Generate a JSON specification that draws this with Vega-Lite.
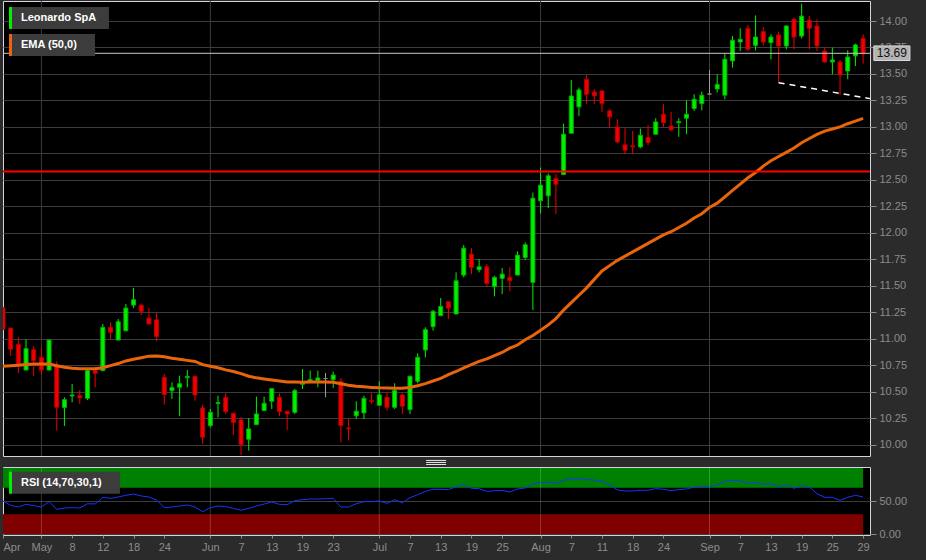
{
  "$schema": "https://vega.github.io/schema/vega-lite/v6.json",
  "background": "#2b2b2b",
  "padding": {"left": 0, "top": 0, "right": 19, "bottom": 7},
  "spacing": 11,
  "bounds": "flush",
  "config": {
    "font": "Liberation Sans",
    "view": {"fill": "#000000", "stroke": "#d4d4e0", "strokeWidth": 1},
    "scale": {"continuousPadding": 0},
    "axis": {"labelFont": "Liberation Sans", "labelFontSize": 11, "labelColor": "#8c8c8c", "tickColor": "#8c8c8c", "domain": false, "gridColor": "#3c3c3c", "gridWidth": 1, "labelOverlap": false}
  },
  "datasets": {
    "months": [{"m": 5}, {"m": 27}, {"m": 49}, {"m": 70}, {"m": 92}],
    "handle": [{"a": 55.1, "b": 57.7, "v": 9.850}, {"a": 55.1, "b": 57.7, "v": 9.831}, {"a": 55.1, "b": 57.7, "v": 9.812}],
    "candles": [
      {"i":0,"o":11.29,"h":11.30,"l":11.08,"c":11.09,"d":"down","ema":10.74,"rsi":50.0},
      {"i":1,"o":11.10,"h":11.10,"l":10.836,"c":10.90,"d":"down","ema":10.745,"rsi":43.4},
      {"i":2,"o":10.946,"h":11.012,"l":10.676,"c":10.761,"d":"down","ema":10.75,"rsi":40.9},
      {"i":3,"o":10.704,"h":10.994,"l":10.704,"c":10.906,"d":"up","ema":10.755,"rsi":44.9},
      {"i":4,"o":10.896,"h":10.931,"l":10.648,"c":10.792,"d":"down","ema":10.76,"rsi":42.9},
      {"i":5,"o":10.824,"h":10.918,"l":10.657,"c":10.704,"d":"down","ema":10.76,"rsi":40.9},
      {"i":6,"o":10.704,"h":10.99,"l":10.70,"c":10.987,"d":"up","ema":10.76,"rsi":49.0},
      {"i":7,"o":10.736,"h":10.786,"l":10.132,"c":10.352,"d":"down","ema":10.745,"rsi":37.4},
      {"i":8,"o":10.349,"h":10.446,"l":10.176,"c":10.424,"d":"up","ema":10.73,"rsi":39.4},
      {"i":9,"o":10.459,"h":10.572,"l":10.399,"c":10.468,"d":"up","ema":10.72,"rsi":39.9},
      {"i":10,"o":10.462,"h":10.516,"l":10.383,"c":10.440,"d":"down","ema":10.715,"rsi":39.4},
      {"i":11,"o":10.437,"h":10.723,"l":10.421,"c":10.698,"d":"up","ema":10.715,"rsi":45.9},
      {"i":12,"o":10.698,"h":10.736,"l":10.541,"c":10.673,"d":"down","ema":10.715,"rsi":45.5},
      {"i":13,"o":10.698,"h":11.138,"l":10.692,"c":11.107,"d":"up","ema":10.725,"rsi":55.5},
      {"i":14,"o":11.107,"h":11.154,"l":10.997,"c":11.06,"d":"down","ema":10.745,"rsi":54.0},
      {"i":15,"o":10.987,"h":11.185,"l":10.987,"c":11.16,"d":"up","ema":10.765,"rsi":56.1},
      {"i":16,"o":11.075,"h":11.327,"l":11.069,"c":11.289,"d":"up","ema":10.79,"rsi":58.6},
      {"i":17,"o":11.317,"h":11.478,"l":11.289,"c":11.368,"d":"up","ema":10.805,"rsi":60.6},
      {"i":18,"o":11.317,"h":11.333,"l":11.223,"c":11.258,"d":"down","ema":10.82,"rsi":57.6},
      {"i":19,"o":11.195,"h":11.289,"l":11.138,"c":11.138,"d":"down","ema":10.835,"rsi":56.1},
      {"i":20,"o":11.179,"h":11.242,"l":10.975,"c":11.019,"d":"down","ema":10.836,"rsi":51.5},
      {"i":21,"o":10.635,"h":10.666,"l":10.377,"c":10.472,"d":"down","ema":10.83,"rsi":39.9},
      {"i":22,"o":10.509,"h":10.588,"l":10.431,"c":10.538,"d":"up","ema":10.815,"rsi":40.9},
      {"i":23,"o":10.541,"h":10.651,"l":10.267,"c":10.575,"d":"up","ema":10.805,"rsi":42.4},
      {"i":24,"o":10.632,"h":10.704,"l":10.541,"c":10.644,"d":"up","ema":10.795,"rsi":43.9},
      {"i":25,"o":10.644,"h":10.651,"l":10.415,"c":10.468,"d":"down","ema":10.785,"rsi":40.9},
      {"i":26,"o":10.346,"h":10.374,"l":10.006,"c":10.069,"d":"down","ema":10.755,"rsi":33.8},
      {"i":27,"o":10.179,"h":10.336,"l":10.163,"c":10.305,"d":"up","ema":10.74,"rsi":39.9},
      {"i":28,"o":10.387,"h":10.462,"l":10.258,"c":10.396,"d":"up","ema":10.725,"rsi":42.4},
      {"i":29,"o":10.446,"h":10.484,"l":10.289,"c":10.311,"d":"down","ema":10.705,"rsi":41.4},
      {"i":30,"o":10.295,"h":10.30,"l":10.091,"c":10.21,"d":"down","ema":10.69,"rsi":38.9},
      {"i":31,"o":10.233,"h":10.258,"l":9.90,"c":10.0,"d":"down","ema":10.67,"rsi":35.9},
      {"i":32,"o":10.05,"h":10.251,"l":9.943,"c":10.148,"d":"up","ema":10.645,"rsi":38.9},
      {"i":33,"o":10.188,"h":10.453,"l":10.188,"c":10.289,"d":"up","ema":10.63,"rsi":42.4},
      {"i":34,"o":10.321,"h":10.453,"l":10.32,"c":10.39,"d":"up","ema":10.62,"rsi":45.4},
      {"i":35,"o":10.409,"h":10.53,"l":10.336,"c":10.528,"d":"up","ema":10.61,"rsi":48.5},
      {"i":36,"o":10.446,"h":10.484,"l":10.267,"c":10.311,"d":"down","ema":10.60,"rsi":44.9},
      {"i":37,"o":10.314,"h":10.314,"l":10.138,"c":10.289,"d":"down","ema":10.59,"rsi":44.4},
      {"i":38,"o":10.305,"h":10.525,"l":10.289,"c":10.509,"d":"up","ema":10.59,"rsi":50.5},
      {"i":39,"o":10.569,"h":10.714,"l":10.525,"c":10.578,"d":"up","ema":10.588,"rsi":52.0},
      {"i":40,"o":10.598,"h":10.698,"l":10.59,"c":10.613,"d":"up","ema":10.59,"rsi":53.0},
      {"i":41,"o":10.604,"h":10.698,"l":10.541,"c":10.629,"d":"up","ema":10.592,"rsi":53.0},
      {"i":42,"o":10.623,"h":10.676,"l":10.447,"c":10.623,"d":"flat","ema":10.59,"rsi":53.5},
      {"i":43,"o":10.613,"h":10.689,"l":10.535,"c":10.657,"d":"up","ema":10.588,"rsi":54.0},
      {"i":44,"o":10.598,"h":10.629,"l":10.022,"c":10.179,"d":"down","ema":10.575,"rsi":40.9},
      {"i":45,"o":10.157,"h":10.242,"l":10.038,"c":10.148,"d":"down","ema":10.56,"rsi":40.9},
      {"i":46,"o":10.271,"h":10.409,"l":10.242,"c":10.315,"d":"up","ema":10.55,"rsi":45.9},
      {"i":47,"o":10.299,"h":10.462,"l":10.242,"c":10.437,"d":"up","ema":10.545,"rsi":49.0},
      {"i":48,"o":10.415,"h":10.484,"l":10.384,"c":10.406,"d":"down","ema":10.54,"rsi":49.0},
      {"i":49,"o":10.371,"h":10.598,"l":10.371,"c":10.469,"d":"up","ema":10.536,"rsi":50.0},
      {"i":50,"o":10.447,"h":10.494,"l":10.321,"c":10.352,"d":"down","ema":10.535,"rsi":46.5},
      {"i":51,"o":10.352,"h":10.579,"l":10.337,"c":10.51,"d":"up","ema":10.533,"rsi":52.0},
      {"i":52,"o":10.469,"h":10.484,"l":10.289,"c":10.362,"d":"down","ema":10.532,"rsi":47.0},
      {"i":53,"o":10.33,"h":10.65,"l":10.289,"c":10.645,"d":"up","ema":10.54,"rsi":55.0},
      {"i":54,"o":10.598,"h":10.862,"l":10.579,"c":10.824,"d":"up","ema":10.555,"rsi":59.6},
      {"i":55,"o":10.893,"h":11.107,"l":10.824,"c":11.085,"d":"up","ema":10.575,"rsi":64.6},
      {"i":56,"o":11.113,"h":11.271,"l":11.076,"c":11.258,"d":"up","ema":10.60,"rsi":67.7},
      {"i":57,"o":11.217,"h":11.384,"l":11.217,"c":11.305,"d":"up","ema":10.625,"rsi":67.7},
      {"i":58,"o":11.349,"h":11.35,"l":11.186,"c":11.289,"d":"down","ema":10.66,"rsi":67.2},
      {"i":59,"o":11.233,"h":11.626,"l":11.233,"c":11.547,"d":"up","ema":10.69,"rsi":71.7},
      {"i":60,"o":11.601,"h":11.884,"l":11.579,"c":11.855,"d":"up","ema":10.725,"rsi":74.8},
      {"i":61,"o":11.799,"h":11.855,"l":11.61,"c":11.673,"d":"down","ema":10.755,"rsi":69.2},
      {"i":62,"o":11.651,"h":11.752,"l":11.626,"c":11.679,"d":"up","ema":10.785,"rsi":68.7},
      {"i":63,"o":11.679,"h":11.705,"l":11.491,"c":11.522,"d":"down","ema":10.81,"rsi":64.6},
      {"i":64,"o":11.491,"h":11.594,"l":11.399,"c":11.579,"d":"up","ema":10.84,"rsi":65.6},
      {"i":65,"o":11.569,"h":11.667,"l":11.421,"c":11.61,"d":"up","ema":10.87,"rsi":66.1},
      {"i":66,"o":11.579,"h":11.673,"l":11.447,"c":11.547,"d":"down","ema":10.91,"rsi":63.6},
      {"i":67,"o":11.601,"h":11.824,"l":11.60,"c":11.789,"d":"up","ema":10.94,"rsi":68.2},
      {"i":68,"o":11.767,"h":11.909,"l":11.742,"c":11.887,"d":"up","ema":10.99,"rsi":69.7},
      {"i":69,"o":11.532,"h":12.38,"l":11.27,"c":12.327,"d":"up","ema":11.03,"rsi":75.8},
      {"i":70,"o":12.302,"h":12.616,"l":12.182,"c":12.45,"d":"up","ema":11.08,"rsi":77.8},
      {"i":71,"o":12.349,"h":12.56,"l":12.233,"c":12.538,"d":"up","ema":11.13,"rsi":78.3},
      {"i":72,"o":12.513,"h":12.553,"l":12.176,"c":12.459,"d":"down","ema":11.19,"rsi":76.8},
      {"i":73,"o":12.55,"h":13.031,"l":12.55,"c":12.931,"d":"up","ema":11.27,"rsi":81.3},
      {"i":74,"o":12.94,"h":13.443,"l":12.94,"c":13.292,"d":"up","ema":11.34,"rsi":83.8},
      {"i":75,"o":13.189,"h":13.371,"l":13.104,"c":13.349,"d":"up","ema":11.41,"rsi":83.8},
      {"i":76,"o":13.45,"h":13.49,"l":13.22,"c":13.308,"d":"down","ema":11.48,"rsi":82.3},
      {"i":77,"o":13.33,"h":13.355,"l":13.214,"c":13.292,"d":"down","ema":11.56,"rsi":81.8},
      {"i":78,"o":13.34,"h":13.34,"l":13.141,"c":13.22,"d":"down","ema":11.64,"rsi":79.8},
      {"i":79,"o":13.151,"h":13.167,"l":12.987,"c":13.094,"d":"down","ema":11.69,"rsi":74.2},
      {"i":80,"o":13.0,"h":13.072,"l":12.846,"c":12.858,"d":"down","ema":11.74,"rsi":66.7},
      {"i":81,"o":12.83,"h":12.987,"l":12.742,"c":12.78,"d":"down","ema":11.78,"rsi":65.2},
      {"i":82,"o":12.821,"h":12.962,"l":12.748,"c":12.811,"d":"down","ema":11.82,"rsi":65.2},
      {"i":83,"o":12.811,"h":12.984,"l":12.799,"c":12.921,"d":"up","ema":11.86,"rsi":66.2},
      {"i":84,"o":12.899,"h":13.016,"l":12.827,"c":12.852,"d":"down","ema":11.90,"rsi":66.2},
      {"i":85,"o":12.931,"h":13.082,"l":12.93,"c":13.047,"d":"up","ema":11.94,"rsi":68.7},
      {"i":86,"o":13.12,"h":13.214,"l":13.0,"c":13.041,"d":"down","ema":11.98,"rsi":67.7},
      {"i":87,"o":13.009,"h":13.141,"l":12.962,"c":12.972,"d":"down","ema":12.01,"rsi":65.7},
      {"i":88,"o":13.041,"h":13.082,"l":12.906,"c":13.05,"d":"up","ema":12.05,"rsi":67.2},
      {"i":89,"o":13.082,"h":13.251,"l":12.931,"c":13.12,"d":"up","ema":12.09,"rsi":68.2},
      {"i":90,"o":13.173,"h":13.308,"l":13.151,"c":13.261,"d":"up","ema":12.14,"rsi":71.2},
      {"i":91,"o":13.22,"h":13.333,"l":13.157,"c":13.299,"d":"up","ema":12.18,"rsi":72.2},
      {"i":92,"o":13.31,"h":13.537,"l":13.30,"c":13.31,"d":"flat","ema":12.24,"rsi":72.2},
      {"i":93,"o":13.358,"h":13.497,"l":13.324,"c":13.40,"d":"up","ema":12.28,"rsi":74.2},
      {"i":94,"o":13.30,"h":13.692,"l":13.261,"c":13.639,"d":"up","ema":12.34,"rsi":79.8},
      {"i":95,"o":13.623,"h":13.859,"l":13.56,"c":13.818,"d":"up","ema":12.40,"rsi":81.3},
      {"i":96,"o":13.802,"h":13.931,"l":13.717,"c":13.827,"d":"up","ema":12.46,"rsi":80.8},
      {"i":97,"o":13.931,"h":13.962,"l":13.717,"c":13.733,"d":"down","ema":12.52,"rsi":76.3},
      {"i":98,"o":13.77,"h":14.053,"l":13.723,"c":13.849,"d":"up","ema":12.57,"rsi":78.3},
      {"i":99,"o":13.90,"h":13.943,"l":13.77,"c":13.802,"d":"down","ema":12.63,"rsi":75.3},
      {"i":100,"o":13.796,"h":13.874,"l":13.638,"c":13.849,"d":"up","ema":12.68,"rsi":76.3},
      {"i":101,"o":13.868,"h":13.90,"l":13.418,"c":13.764,"d":"down","ema":12.72,"rsi":71.7},
      {"i":102,"o":13.764,"h":13.962,"l":13.733,"c":13.953,"d":"up","ema":12.76,"rsi":74.8},
      {"i":103,"o":14.016,"h":14.031,"l":13.733,"c":13.849,"d":"down","ema":12.80,"rsi":69.2},
      {"i":104,"o":13.858,"h":14.164,"l":13.836,"c":14.047,"d":"up","ema":12.85,"rsi":73.2},
      {"i":105,"o":14.009,"h":14.047,"l":13.733,"c":13.931,"d":"down","ema":12.89,"rsi":71.2},
      {"i":106,"o":13.953,"h":14.016,"l":13.717,"c":13.764,"d":"down","ema":12.93,"rsi":61.1},
      {"i":107,"o":13.717,"h":13.748,"l":13.607,"c":13.613,"d":"down","ema":12.96,"rsi":55.6},
      {"i":108,"o":13.613,"h":13.748,"l":13.497,"c":13.632,"d":"up","ema":12.98,"rsi":55.6},
      {"i":109,"o":13.613,"h":13.629,"l":13.302,"c":13.491,"d":"down","ema":13.00,"rsi":51.0},
      {"i":110,"o":13.528,"h":13.723,"l":13.45,"c":13.66,"d":"up","ema":13.03,"rsi":55.6},
      {"i":111,"o":13.67,"h":13.786,"l":13.575,"c":13.774,"d":"up","ema":13.055,"rsi":58.6},
      {"i":112,"o":13.836,"h":13.874,"l":13.597,"c":13.69,"d":"down","ema":13.08,"rsi":56.1}
    ]
  },
  "resolve": {"scale": {"x": "independent", "y": "independent"}},
  "vconcat": [
    {
      "width": 867,
      "height": 455,
      "data": {"name": "candles"},
      "layer": [
        {
          "data": {"name": "months"},
          "mark": {"type": "rule", "color": "#3c3c3c", "strokeWidth": 1},
          "encoding": {"x": {"field": "m", "type": "quantitative", "scale": {"domain": [0, 112.9], "nice": false, "zero": false, "padding": 0}, "axis": null}}
        },
        {
          "mark": {"type": "rule", "strokeWidth": 1, "clip": true},
          "encoding": {
            "x": {"field": "i", "type": "quantitative", "axis": null},
            "y": {"field": "l", "type": "quantitative", "title": null, "scale": {"domain": [9.892, 14.189], "nice": false, "zero": false, "padding": 0},
                  "axis": {"orient": "right", "values": [10, 10.25, 10.5, 10.75, 11, 11.25, 11.5, 11.75, 12, 12.25, 12.5, 12.75, 13, 13.25, 13.5, 13.75, 14], "tickCount": 100, "format": ".2f", "grid": true, "tickSize": 6, "labelPadding": 3, "labelOverlap": false, "labelBound": false}},
            "y2": {"field": "h"},
            "color": {"field": "d", "type": "nominal", "scale": {"domain": ["up", "down", "flat"], "range": ["#00f000", "#f00000", "#a0a0a0"]}, "legend": null}
          }
        },
        {
          "mark": {"type": "bar", "size": 4, "strokeWidth": 1, "clip": true},
          "encoding": {
            "x": {"field": "i", "type": "quantitative", "axis": null},
            "y": {"field": "o", "type": "quantitative", "title": null},
            "y2": {"field": "c"},
            "color": {"field": "d", "type": "nominal", "legend": null},
            "stroke": {"field": "d", "type": "nominal", "scale": {"domain": ["up", "down", "flat"], "range": ["#00b000", "#b00000", "#808080"]}, "legend": null}
          }
        },
        {
          "mark": {"type": "line", "color": "#e8650c", "strokeWidth": 3, "clip": true},
          "encoding": {
            "x": {"field": "i", "type": "quantitative", "axis": null},
            "y": {"field": "ema", "type": "quantitative", "title": null}
          }
        },
        {
          "data": {"values": [{}]},
          "mark": {"type": "rule", "color": "#ff0000", "strokeWidth": 2},
          "encoding": {"y": {"datum": 12.578, "type": "quantitative", "title": null}}
        },
        {
          "data": {"values": [{}]},
          "mark": {"type": "rule", "color": "#c8c8c8", "strokeWidth": 1},
          "encoding": {"y": {"datum": 13.695, "type": "quantitative", "title": null}}
        },
        {
          "data": {"values": [{"i": 101, "v": 13.418}, {"i": 112.9, "v": 13.267}]},
          "mark": {"type": "line", "color": "#ffffff", "strokeWidth": 1.5, "strokeDash": [6, 5]},
          "encoding": {
            "x": {"field": "i", "type": "quantitative", "axis": null},
            "y": {"field": "v", "type": "quantitative", "title": null}
          }
        },
        {
          "data": {"name": "handle"},
          "mark": {"type": "rule", "color": "#e8e8e8", "strokeWidth": 1},
          "encoding": {
            "x": {"field": "a", "type": "quantitative", "axis": null},
            "x2": {"field": "b"},
            "y": {"field": "v", "type": "quantitative", "title": null}
          }
        },
        {
          "data": {"values": [{}]},
          "mark": {"type": "rect", "color": "#3c3c3c"},
          "encoding": {"x": {"datum": 0.78, "type": "quantitative", "axis": null}, "x2": {"datum": 13.8}, "y": {"datum": 14.132, "type": "quantitative", "title": null}, "y2": {"datum": 13.925}}
        },
        {
          "data": {"values": [{}]},
          "mark": {"type": "rect", "color": "#00ee00"},
          "encoding": {"x": {"datum": 0.78, "type": "quantitative", "axis": null}, "x2": {"datum": 1.17}, "y": {"datum": 14.132, "type": "quantitative", "title": null}, "y2": {"datum": 13.925}}
        },
        {
          "data": {"values": [{}]},
          "mark": {"type": "text", "color": "#ffffff", "fontWeight": "bold", "fontSize": 11, "align": "left", "baseline": "middle", "font": "Liberation Sans"},
          "encoding": {"x": {"datum": 2.34, "type": "quantitative", "axis": null}, "y": {"datum": 14.028, "type": "quantitative", "title": null}, "text": {"value": "Leonardo SpA"}}
        },
        {
          "data": {"values": [{}]},
          "mark": {"type": "rect", "color": "#3c3c3c"},
          "encoding": {"x": {"datum": 0.78, "type": "quantitative", "axis": null}, "x2": {"datum": 11.98}, "y": {"datum": 13.877, "type": "quantitative", "title": null}, "y2": {"datum": 13.67}}
        },
        {
          "data": {"values": [{}]},
          "mark": {"type": "rect", "color": "#e8650c"},
          "encoding": {"x": {"datum": 0.78, "type": "quantitative", "axis": null}, "x2": {"datum": 1.17}, "y": {"datum": 13.877, "type": "quantitative", "title": null}, "y2": {"datum": 13.67}}
        },
        {
          "data": {"values": [{}]},
          "mark": {"type": "text", "color": "#ffffff", "fontWeight": "bold", "fontSize": 11, "align": "left", "baseline": "middle", "font": "Liberation Sans"},
          "encoding": {"x": {"datum": 2.34, "type": "quantitative", "axis": null}, "y": {"datum": 13.774, "type": "quantitative", "title": null}, "text": {"value": "EMA (50,0)"}}
        },
        {
          "data": {"values": [{}]},
          "mark": {"type": "rect", "color": "#b4b4b4", "stroke": "#d8d8d8", "strokeWidth": 1},
          "encoding": {"x": {"datum": 113.4, "type": "quantitative", "axis": null}, "x2": {"datum": 118.1}, "y": {"datum": 13.765, "type": "quantitative", "title": null}, "y2": {"datum": 13.627}}
        },
        {
          "data": {"values": [{}]},
          "mark": {"type": "text", "color": "#111111", "fontSize": 12, "align": "center", "baseline": "middle", "font": "Liberation Sans"},
          "encoding": {"x": {"datum": 115.75, "type": "quantitative", "axis": null}, "y": {"datum": 13.696, "type": "quantitative", "title": null}, "text": {"value": "13.69"}}
        }
      ]
    },
    {
      "width": 867,
      "height": 68,
      "data": {"name": "candles"},
      "layer": [
        {
          "data": {"values": [{}]},
          "mark": {"type": "rect", "color": "#008000"},
          "encoding": {"x": {"datum": 0, "type": "quantitative", "title": null}, "x2": {"datum": 112}, "y": {"datum": 70, "type": "quantitative", "title": null}, "y2": {"datum": 100}}
        },
        {
          "data": {"values": [{}]},
          "mark": {"type": "rect", "color": "#800000"},
          "encoding": {"x": {"datum": 0, "type": "quantitative", "title": null}, "x2": {"datum": 112}, "y": {"datum": 0, "type": "quantitative", "title": null}, "y2": {"datum": 30}}
        },
        {
          "data": {"name": "months"},
          "mark": {"type": "rule", "color": "#ffffff", "opacity": 0.2, "strokeWidth": 1},
          "encoding": {"x": {"field": "m", "type": "quantitative", "title": null}}
        },
        {
          "mark": {"type": "line", "color": "#1a33ff", "strokeWidth": 1},
          "encoding": {
            "x": {"field": "i", "type": "quantitative", "title": null, "scale": {"domain": [0, 112.9], "nice": false, "zero": false, "padding": 0},
                  "axis": {"values": [0, 5, 9, 13, 17, 21, 27, 31, 35, 39, 43, 49, 53, 57, 61, 65, 70, 74, 78, 82, 86, 92, 96, 100, 104, 108, 112], "tickCount": 100,
                           "labelExpr": "['Apr','May','8','12','18','24','Jun','7','13','19','23','Jul','7','13','19','25','Aug','7','11','18','24','Sep','7','13','19','25','29'][indexof([0,5,9,13,17,21,27,31,35,39,43,49,53,57,61,65,70,74,78,82,86,92,96,100,104,108,112], datum.value)]",
                           "grid": false, "tickSize": 3, "labelPadding": 3, "labelOverlap": false, "labelBound": false}},
            "y": {"field": "rsi", "type": "quantitative", "title": null, "scale": {"domain": [-1.5, 101.5], "nice": false, "zero": false, "padding": 0},
                  "axis": {"orient": "right", "values": [0, 50], "tickCount": 10, "format": ".2f", "grid": true, "tickSize": 6, "labelPadding": 3, "labelOverlap": false}}
          }
        },
        {
          "data": {"values": [{}]},
          "mark": {"type": "rect", "color": "#3c3c3c"},
          "encoding": {"x": {"datum": 0.78, "type": "quantitative", "title": null}, "x2": {"datum": 15.23}, "y": {"datum": 94.4, "type": "quantitative", "title": null}, "y2": {"datum": 61.1}}
        },
        {
          "data": {"values": [{}]},
          "mark": {"type": "rect", "color": "#00ee00"},
          "encoding": {"x": {"datum": 0.78, "type": "quantitative", "title": null}, "x2": {"datum": 1.17}, "y": {"datum": 94.4, "type": "quantitative", "title": null}, "y2": {"datum": 61.1}}
        },
        {
          "data": {"values": [{}]},
          "mark": {"type": "text", "color": "#ffffff", "fontWeight": "bold", "fontSize": 11, "align": "left", "baseline": "middle", "font": "Liberation Sans"},
          "encoding": {"x": {"datum": 2.34, "type": "quantitative", "title": null}, "y": {"datum": 77.7, "type": "quantitative", "title": null}, "text": {"value": "RSI (14,70,30,1)"}}
        }
      ]
    }
  ]
}
